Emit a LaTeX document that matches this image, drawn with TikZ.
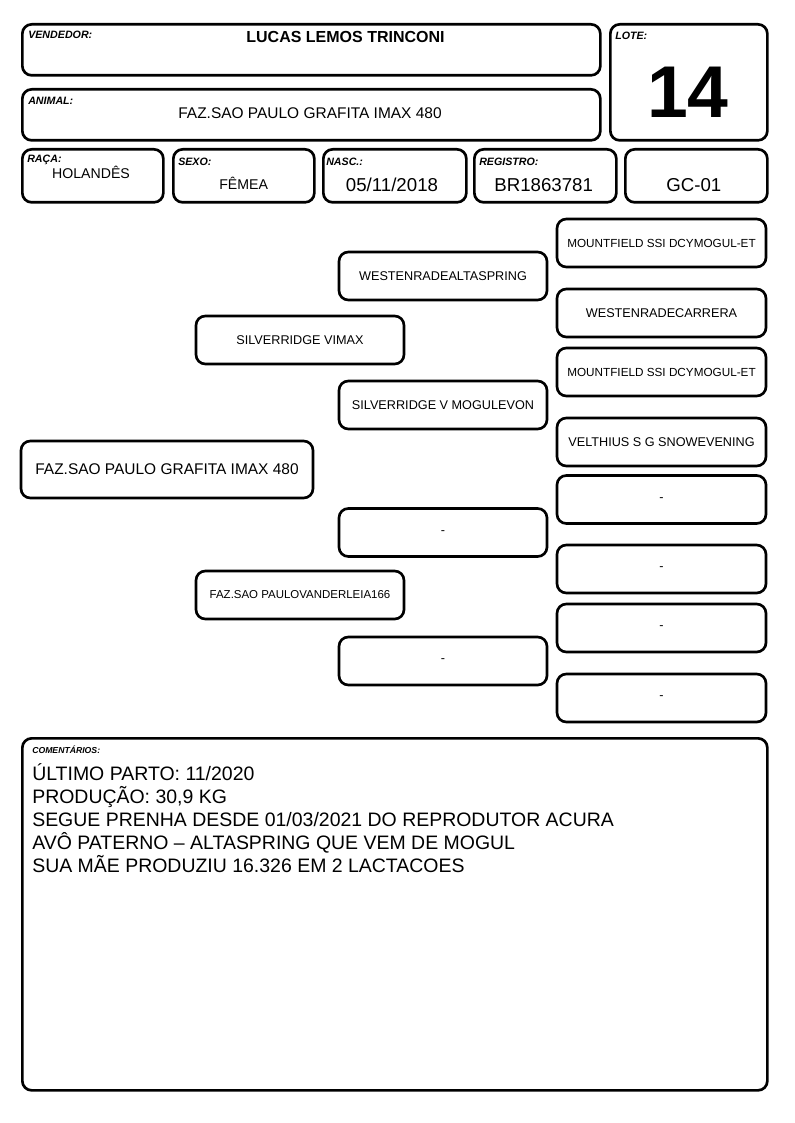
\documentclass[tikz,border=0pt]{standalone}
\usepackage{fontspec}
\setmainfont{Liberation Sans}
\usetikzlibrary{positioning}

\begin{document}
\begin{tikzpicture}[x=0.75pt, y=-0.75pt,
    field/.style={draw, line width=2pt, rounded corners=7pt, anchor=north west, inner sep=0pt},
    lbl/.style={anchor=north west, inner sep=0pt, font=\fontsize{8}{9}\selectfont\bfseries\itshape},
    val/.style={anchor=base, inner sep=0pt, font=\fontsize{10.6}{12}\selectfont},
    big/.style={anchor=base, inner sep=0pt, font=\fontsize{14}{16}\selectfont},
    ped/.style={draw, line width=2pt, rounded corners=7pt, minimum width=156pt, minimum height=36pt, inner sep=0pt, font=\fontsize{9.5}{11}\selectfont},
    anc/.style={ped, minimum width=156.75pt}
]
\useasboundingbox (0,0) rectangle (794,1123);

% header
\node[field, minimum width=433.5pt, minimum height=38.25pt] (vend) at (21,23) {};
\node[lbl] (vendlbl) at (28,31) {VENDEDOR:};
\node[val, font=\fontsize{12}{14}\selectfont\bfseries] (vendval) at (345.5,42.5) {LUCAS LEMOS TRINCONI};

\node[field, minimum width=433.5pt, minimum height=38.25pt] (anim) at (21,88) {};
\node[lbl] (animlbl) at (28,97) {ANIMAL:};
\node[val, font=\fontsize{11.6}{14}\selectfont] (animval) at (310,119) {FAZ.SAO PAULO GRAFITA IMAX 480};

\node[field, minimum width=117.75pt, minimum height=87pt] (lote) at (609,23) {};
\node[lbl] (lotelbl) at (615,32) {LOTE:};
\node[val, font=\fontsize{55}{60}\selectfont\bfseries] (loteval) at (688,118) {14};

\node[field, minimum width=105.75pt, minimum height=39.75pt] (raca) at (21,148) {};
\node[lbl] (racalbl) at (27,155) {RAÇA:};
\node[val] (racaval) at (91,178.3) {HOLANDÊS};

\node[field, minimum width=105.75pt, minimum height=39.75pt] (sexo) at (172,148) {};
\node[lbl] (sexolbl) at (178,158) {SEXO:};
\node[val] (sexoval) at (243.7,190) {FÊMEA};

\node[field, minimum width=107.25pt, minimum height=39.75pt] (nasc) at (322,148) {};
\node[lbl] (nasclbl) at (326,158) {NASC.:};
\node[big] (nascval) at (392,191.7) {05/11/2018};

\node[field, minimum width=106.5pt, minimum height=39.75pt] (reg) at (473,148) {};
\node[lbl] (reglbl) at (479,158) {REGISTRO:};
\node[big] (regval) at (543.7,191.7) {BR1863781};

\node[field, minimum width=106.5pt, minimum height=39.75pt] (gc) at (624,148) {};
\node[big] (gcval) at (693.8,191.7) {GC-01};

% pedigree
\node[ped, minimum width=219pt, minimum height=42.75pt, font=\fontsize{11.6}{14}\selectfont] (self) at (167,469.5) {FAZ.SAO PAULO GRAFITA IMAX 480};

\node[ped] (sire) at (300,340) {SILVERRIDGE VIMAX};
\node[ped, font=\fontsize{8.6}{10}\selectfont] (dam) at (300,595) {FAZ.SAO PAULOVANDERLEIA166};

\node[ped] (ss) at (443,276) {WESTENRADEALTASPRING};
\node[ped] (sd) at (443,405) {SILVERRIDGE V MOGULEVON};
\node[ped] (ds) at (443,532.5) {-};
\node[ped] (dd) at (443,661) {-};

\node[anc, font=\fontsize{8.8}{10}\selectfont] (sss) at (661.5,243) {MOUNTFIELD SSI DCYMOGUL-ET};
\node[anc] (ssd) at (661.5,313) {WESTENRADECARRERA};
\node[anc, font=\fontsize{8.8}{10}\selectfont] (sds) at (661.5,372) {MOUNTFIELD SSI DCYMOGUL-ET};
\node[anc] (sdd) at (661.5,442) {VELTHIUS S G SNOWEVENING};
\node[anc] (dss) at (661.5,499.5) {-};
\node[anc] (dsd) at (661.5,569) {-};
\node[anc] (dds) at (661.5,628) {-};
\node[anc] (ddd) at (661.5,698) {-};

% comments
\node[field, minimum width=558.75pt, minimum height=264pt] (com) at (21,737) {};
\node[lbl, font=\fontsize{6.5}{8}\selectfont\bfseries\itshape] (comlbl) at (32,746) {COMENTÁRIOS:};
\node[anchor=base west, inner sep=0pt, align=left, font=\fontsize{14.6}{17.25}\selectfont] (comtxt) at (32,872)
  {ÚLTIMO PARTO: 11/2020\\
   PRODUÇÃO: 30,9 KG\\
   SEGUE PRENHA DESDE 01/03/2021 DO REPRODUTOR ACURA\\
   AVÔ PATERNO – ALTASPRING QUE VEM DE MOGUL\\
   SUA MÃE PRODUZIU 16.326 EM 2 LACTACOES};
\end{tikzpicture}
\end{document}
